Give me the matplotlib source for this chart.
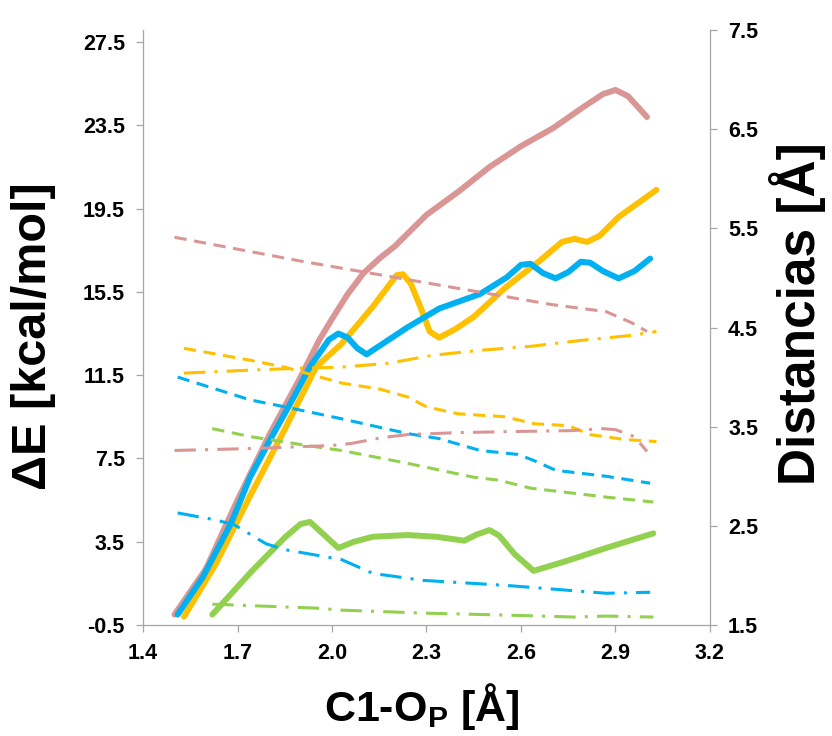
import matplotlib
matplotlib.use("Agg")
import matplotlib.pyplot as plt

plt.rcParams['font.family'] = ['Liberation Sans', 'DejaVu Sans']
plt.rcParams['font.weight'] = 'bold'
plt.rcParams['mathtext.fontset'] = 'custom'
plt.rcParams['mathtext.rm'] = 'Liberation Sans:bold'
plt.rcParams['mathtext.bf'] = 'Liberation Sans:bold'
plt.rcParams['mathtext.it'] = 'Liberation Sans:bold'

PINK = '#D99694'
ORANGE = '#FFC000'
BLUE = '#00B0F0'
GREEN = '#92D050'

# --- energias (eje izquierdo, lineas solidas) ---
pink_e_x = [1.50, 1.60, 1.70, 1.80, 1.90, 1.96, 2.00, 2.05, 2.10, 2.15, 2.20, 2.30, 2.40,
            2.50, 2.60, 2.70, 2.80, 2.86, 2.90, 2.94, 3.00]
pink_e_y = [0.0, 2.2, 5.5, 8.6, 11.4, 13.2, 14.2, 15.4, 16.4, 17.1, 17.7, 19.2, 20.3,
            21.5, 22.5, 23.35, 24.4, 25.0, 25.2, 24.9, 23.9]

orange_e_x = [1.53, 1.63, 1.74, 1.85, 1.95, 2.03, 2.08, 2.13, 2.18, 2.205, 2.225, 2.25,
              2.28, 2.31, 2.34, 2.39, 2.45, 2.55, 2.66, 2.73, 2.77, 2.81, 2.85, 2.91, 3.03]
orange_e_y = [-0.1, 2.4, 5.7, 8.9, 11.9, 13.0, 13.9, 14.8, 15.8, 16.3, 16.35, 15.9,
              14.8, 13.6, 13.3, 13.7, 14.3, 15.7, 17.0, 17.9, 18.05, 17.9, 18.2, 19.1, 20.4]

blue_e_x = [1.51, 1.59, 1.68, 1.74, 1.80, 1.87, 1.93, 1.99, 2.02, 2.05, 2.08, 2.11, 2.17,
            2.24, 2.34, 2.47, 2.555, 2.60, 2.63, 2.67, 2.71, 2.75, 2.79, 2.82, 2.86, 2.91,
            2.96, 3.01]
blue_e_y = [0.0, 1.8, 4.4, 6.6, 8.3, 10.2, 11.9, 13.2, 13.5, 13.3, 12.8, 12.5, 13.1,
            13.8, 14.7, 15.4, 16.2, 16.8, 16.85, 16.4, 16.15, 16.45, 16.95, 16.9, 16.5,
            16.15, 16.5, 17.1]

green_e_x = [1.62, 1.74, 1.85, 1.90, 1.93, 1.97, 2.02, 2.07, 2.13, 2.24, 2.33, 2.42, 2.46,
             2.50, 2.53, 2.58, 2.64, 2.75, 2.87, 3.02]
green_e_y = [0.0, 2.0, 3.7, 4.35, 4.45, 3.9, 3.2, 3.5, 3.74, 3.82, 3.74, 3.55, 3.85,
             4.06, 3.8, 2.9, 2.1, 2.6, 3.2, 3.9]

# --- distancias (eje derecho) ---
pink_d1_x = [1.50, 1.70, 1.90, 2.10, 2.30, 2.50, 2.70, 2.87, 2.95, 3.00]
pink_d1_y = [5.41, 5.29, 5.17, 5.06, 4.95, 4.84, 4.73, 4.66, 4.55, 4.46]
pink_d2_x = [1.50, 1.75, 2.00, 2.06, 2.16, 2.24, 2.40, 2.56, 2.76, 2.86, 2.90, 2.96, 3.00]
pink_d2_y = [3.26, 3.28, 3.31, 3.33, 3.39, 3.42, 3.44, 3.45, 3.46, 3.48, 3.47, 3.40, 3.25]

orange_d1_x = [1.53, 1.74, 1.85, 2.03, 2.15, 2.24, 2.30, 2.40, 2.55, 2.64, 2.75, 2.82, 2.93, 3.03]
orange_d1_y = [4.29, 4.17, 4.10, 3.94, 3.88, 3.80, 3.70, 3.63, 3.60, 3.53, 3.51, 3.42, 3.37, 3.35]
orange_d2_x = [1.53, 1.74, 1.90, 2.03, 2.18, 2.32, 2.47, 2.63, 2.79, 2.95, 3.03]
orange_d2_y = [4.04, 4.07, 4.09, 4.10, 4.14, 4.22, 4.27, 4.31, 4.37, 4.42, 4.46]

blue_d1_x = [1.51, 1.74, 1.85, 2.03, 2.24, 2.34, 2.47, 2.59, 2.64, 2.71, 2.87, 3.01]
blue_d1_y = [4.00, 3.77, 3.70, 3.58, 3.43, 3.38, 3.26, 3.22, 3.16, 3.06, 3.00, 2.93]
blue_d2_x = [1.51, 1.63, 1.69, 1.79, 1.85, 2.03, 2.13, 2.29, 2.55, 2.71, 2.87, 3.01]
blue_d2_y = [2.63, 2.56, 2.51, 2.32, 2.26, 2.16, 2.02, 1.95, 1.90, 1.86, 1.82, 1.83]

green_d1_x = [1.62, 1.74, 1.90, 2.03, 2.24, 2.45, 2.53, 2.63, 2.87, 3.02]
green_d1_y = [3.48, 3.40, 3.32, 3.26, 3.13, 2.99, 2.96, 2.88, 2.79, 2.74]
green_d2_x = [1.62, 1.95, 2.03, 2.29, 2.55, 2.77, 2.87, 3.02]
green_d2_y = [1.71, 1.67, 1.65, 1.62, 1.60, 1.58, 1.59, 1.58]

x_ticks = [1.4, 1.7, 2.0, 2.3, 2.6, 2.9, 3.2]
left_ticks = [-0.5, 3.5, 7.5, 11.5, 15.5, 19.5, 23.5, 27.5]
right_ticks = [1.5, 2.5, 3.5, 4.5, 5.5, 6.5, 7.5]

fig = plt.figure(figsize=(8.32, 7.36), dpi=100)
ax = fig.add_axes([143 / 832, 111 / 736, 567 / 832, 595 / 736])
ax2 = ax.twinx()

lw_e = 4.3
ax.plot(pink_e_x, pink_e_y, color=PINK, lw=lw_e, solid_capstyle='round', solid_joinstyle='round')
ax.plot(orange_e_x, orange_e_y, color=ORANGE, lw=lw_e, solid_capstyle='round', solid_joinstyle='round')
ax.plot(green_e_x, green_e_y, color=GREEN, lw=lw_e, solid_capstyle='round', solid_joinstyle='round')
ax.plot(blue_e_x, blue_e_y, color=BLUE, lw=lw_e, solid_capstyle='round', solid_joinstyle='round')

lw_d = 2.2
dash = (4, 2.5)
dashdot = (7, 3, 1, 3)
for xs, ys, c in [(pink_d1_x, pink_d1_y, PINK), (orange_d1_x, orange_d1_y, ORANGE),
                  (blue_d1_x, blue_d1_y, BLUE), (green_d1_x, green_d1_y, GREEN)]:
    ax2.plot(xs, ys, color=c, lw=lw_d, dashes=dash)
for xs, ys, c in [(pink_d2_x, pink_d2_y, PINK), (orange_d2_x, orange_d2_y, ORANGE),
                  (blue_d2_x, blue_d2_y, BLUE), (green_d2_x, green_d2_y, GREEN)]:
    ax2.plot(xs, ys, color=c, lw=lw_d, dashes=dashdot)

ax.set_xlim(1.4, 3.2)
ax.set_ylim(-0.5, 28.08)
ax2.set_ylim(1.5, 7.5)
ax.set_xticks(x_ticks)
ax.set_xticklabels([f"{v:.1f}" for v in x_ticks])
ax.set_yticks(left_ticks)
ax.set_yticklabels([f"{v:.1f}" for v in left_ticks])
ax2.set_yticks(right_ticks)
ax2.set_yticklabels([f"{v:.1f}" for v in right_ticks])

grey = '#A6A6A6'
for a in (ax, ax2):
    a.spines['top'].set_visible(False)
    for s in ('left', 'right', 'bottom'):
        a.spines[s].set_color(grey)
        a.spines[s].set_linewidth(0.9)
    a.tick_params(colors=grey, labelcolor='black', labelsize=15.5, length=5,
                  width=0.9, direction='out', pad=8)
ax.spines['right'].set_visible(False)
ax2.spines['left'].set_visible(False)
ax2.spines['bottom'].set_visible(False)

# titulos de ejes
fig.text(34 / 832, 1 - 336 / 736, 'ΔE [kcal/mol]', rotation=90, fontsize=35,
         fontweight='bold', ha='center', va='center')
fig.text(797 / 832, 1 - 314 / 736, 'Distancias [Å]', rotation=90, fontsize=37,
         fontweight='bold', ha='center', va='center')
fig.text(422 / 832, 1 - 707 / 736, r'C1-O$_{\mathrm{P}}$ [Å]', fontsize=31,
         fontweight='bold', ha='center', va='center')

fig.savefig('out.png', dpi=100)
